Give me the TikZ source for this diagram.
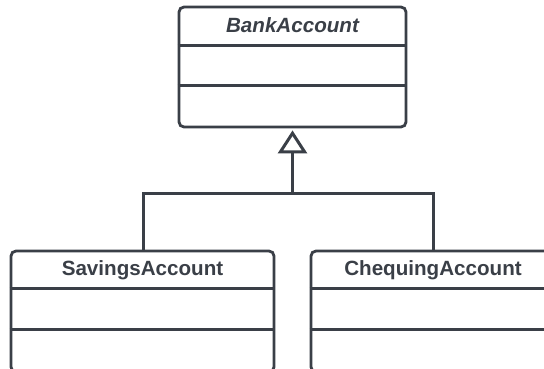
\documentclass[tikz,border=0pt]{standalone}
\usepackage{fontspec}
\setmainfont{Liberation Sans}
\usetikzlibrary{arrows.meta}
\definecolor{ink}{HTML}{3A3F47}
\begin{document}
\begin{tikzpicture}[x=1pt,y=-1pt,
  classbox/.style={draw=ink, line width=2.8pt, rounded corners=5pt, fill=white, inner sep=0pt},
  title/.style={text=ink, font=\fontsize{20.6}{22}\selectfont\bfseries, inner sep=0pt},
  divider/.style={draw=ink, line width=2.8pt},
  conn/.style={draw=ink, line width=3pt}]
\useasboundingbox (0,0) rectangle (544,369);
\clip (0,0) rectangle (544,369);
\fill[white] (0,0) rectangle (544,369);
% classes
\node[classbox, minimum width=227pt, minimum height=120pt] (bank) at (292.5,67) {};
\node[classbox, minimum width=263pt, minimum height=121pt] (sav) at (142.5,311.5) {};
\node[classbox, minimum width=263pt, minimum height=121pt] (chq) at (442.5,311.5) {};
% titles
\node[title, font=\fontsize{20.6}{22}\selectfont\bfseries\itshape] (bankT) at (292.5,25.5) {BankAccount};
\node[title] (savT) at (142.5,270) {SavingsAccount};
\node[title] (chqT) at (433,270) {ChequingAccount};
% dividers
\draw[divider] ([yshift=-40pt]bank.north west) -- ([yshift=-40pt]bank.north east);
\draw[divider] ([yshift=-80pt]bank.north west) -- ([yshift=-80pt]bank.north east);
\draw[divider] ([yshift=-39pt]sav.north west) -- ([yshift=-39pt]sav.north east);
\draw[divider] ([yshift=-80pt]sav.north west) -- ([yshift=-80pt]sav.north east);
\draw[divider] ([yshift=-39pt]chq.north west) -- ([yshift=-39pt]chq.north east);
\draw[divider] ([yshift=-80pt]chq.north west) -- ([yshift=-80pt]chq.north east);
% generalisation
\coordinate (j) at (292.5,193);
\coordinate (sj) at (143,251);
\coordinate (cj) at (433,251);
\draw[conn, line width=3pt] (sj) -- (143,193) -- (433,193) -- (cj);
\draw[conn, -{Triangle[open, length=23pt, width=29pt, line join=miter]}] (j) -- ([yshift=-2pt]bank.south);
\end{tikzpicture}
\end{document}
